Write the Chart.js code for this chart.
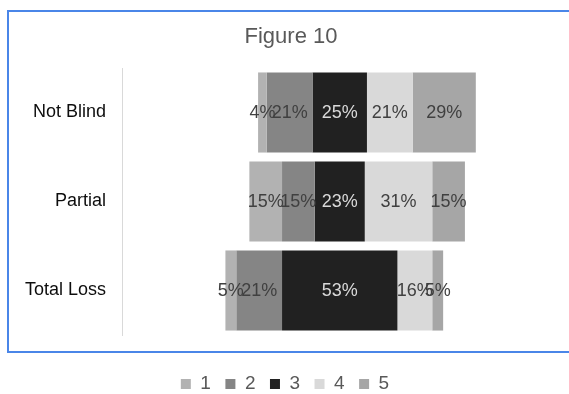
<!DOCTYPE html>
<html>
<head>
<meta charset="utf-8">
<script src="https://cdn.jsdelivr.net/npm/chart.js@4.4.1/dist/chart.umd.min.js"></script>
<style>
  html, body { margin: 0; padding: 0; background: #ffffff; overflow: hidden; }
  #wrap { position: relative; width: 569px; height: 394px; }
  #frame { position: absolute; left: 7px; top: 10px; width: 620px; height: 339px; border: 2px solid #4a86e8; }
  #c { position: absolute; left: 0; top: 0; }
</style>
</head>
<body>
<div id="wrap">
  <div id="frame"></div>
  <canvas id="c" width="569" height="394"></canvas>
</div>
<script>
// Response categories and the share (%) of each rating, per group
const categories = ['Not Blind', 'Partial', 'Total Loss'];
const seriesNames = ['1', '2', '3', '4', '5'];
const share1 = [4, 15, 5];
const share2 = [21, 15, 21];
const share3 = [25, 23, 53];
const share4 = [21, 31, 16];
const share5 = [29, 15, 5];

const shares = [share1, share2, share3, share4, share5];
const fills = ['#b2b2b2', '#858585', '#212121', '#d9d9d9', '#a6a6a6'];
const labelInk = ['#404040', '#404040', '#d9d9d9', '#404040', '#404040'];

// Diverging layout: each row is centred on the middle of rating 3
const starts = categories.map((_, i) => -(share1[i] + share2[i] + share3[i] / 2));
const datasets = shares.map((vals, s) => {
  const ranges = vals.map((v, i) => {
    let from = starts[i];
    for (let k = 0; k < s; k++) from += shares[k][i];
    return [from, from + v];
  });
  return {
    label: seriesNames[s],
    data: ranges,
    pct: vals,
    backgroundColor: fills[s],
    borderWidth: 0,
    grouped: false,
    categoryPercentage: 0.9,
    barPercentage: 1.0,
    labelColor: labelInk[s]
  };
});

const FONT = "'Liberation Sans', Arial, sans-serif";

// Percentage text in the middle of every segment
const segmentLabels = {
  id: 'segmentLabels',
  afterDatasetsDraw(chart) {
    const ctx = chart.ctx;
    ctx.save();
    ctx.font = '18px ' + FONT;
    ctx.textAlign = 'center';
    ctx.textBaseline = 'middle';
    chart.data.datasets.forEach((ds, d) => {
      const meta = chart.getDatasetMeta(d);
      meta.data.forEach((el, i) => {
        const c = el.getCenterPoint();
        ctx.fillStyle = ds.labelColor;
        ctx.fillText(ds.pct[i] + '%', c.x, c.y + 1);
      });
    });
    ctx.restore();
  }
};

// Legend sits low, below the framed area
const legendPlacement = {
  id: 'legendPlacement',
  beforeLayout(chart) {
    const lg = chart.legend;
    if (lg && !lg._patched) {
      const fit = lg.fit;
      lg.fit = function () { fit.call(this); this.height = 59; };
      lg._patched = true;
    }
  },
  afterLayout(chart) {
    const lg = chart.legend;
    lg.top += 25; lg.bottom += 25;
    lg.left -= 6; lg.right -= 6;
  }
};

new Chart(document.getElementById('c'), {
  type: 'bar',
  data: { labels: categories, datasets },
  options: {
    indexAxis: 'y',
    responsive: false,
    devicePixelRatio: 1,
    animation: false,
    layout: { padding: { left: 13, right: 0, top: 0, bottom: 0 } },
    scales: {
      x: { display: false, min: -100, max: 105.3 },
      y: {
        grid: { display: true, color: 'transparent', drawTicks: false },
        border: { display: true, color: '#d9d9d9', width: 1 },
        ticks: { color: '#0d0d0d', font: { family: FONT, size: 18 }, padding: 16 },
        afterFit(scale) { scale.width = 109; }
      }
    },
    plugins: {
      tooltip: { enabled: false },
      title: {
        display: true,
        text: 'Figure 10',
        color: '#595959',
        font: { family: FONT, size: 22, weight: 'normal' },
        padding: { top: 24, bottom: 17.6 }
      },
      legend: {
        position: 'bottom',
        labels: {
          color: '#595959',
          font: { family: FONT, size: 19 },
          boxWidth: 10,
          boxHeight: 10,
          padding: 14.5
        }
      }
    }
  },
  plugins: [segmentLabels, legendPlacement]
});
</script>
</body>
</html>
